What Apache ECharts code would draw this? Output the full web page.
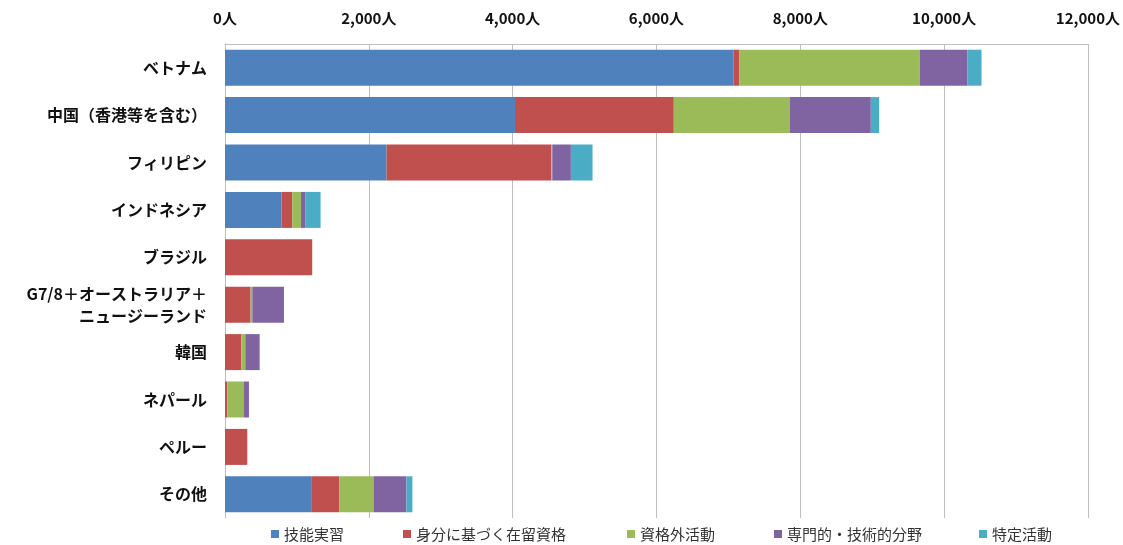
<!DOCTYPE html>
<html><head><meta charset="utf-8">
<script src="https://cdn.jsdelivr.net/npm/echarts@6/dist/echarts.min.js"></script>
<style>html,body{margin:0;padding:0;background:#fff}#c{width:1123px;height:545px}</style>
</head><body><div id="c"></div>
<script>
const categories = ['ベトナム','中国（香港等を含む）','フィリピン','インドネシア','ブラジル','G7/8＋オーストラリア＋\nニュージーランド','韓国','ネパール','ペルー','その他'];
const seriesNames = ['技能実習','身分に基づく在留資格','資格外活動','専門的・技術的分野','特定活動'];
const ginouJisshu   = [7069, 4033, 2247, 787, 0,    0,   0,   0,   0,   1208];
const mibun         = [85,   2208, 2290, 148, 1213, 356, 227, 32,  310, 380];
const shikakugai    = [2510, 1616, 14,   121, 0,    24,  55,  232, 0,   477];
const senmon        = [662,  1124, 259,  65,  0,    440, 200, 69,  0,   458];
const tokutei       = [194,  116,  301,  208, 0,    0,   0,   0,   0,   83];
const tickValues = [0,2000,4000,6000,8000,10000,12000];
const colors = ['#4F81BD','#C0504D','#9BBB59','#8064A2','#4BACC6'];
const dataSets = [ginouJisshu, mibun, shikakugai, senmon, tokutei];
const legendLeft = [266, 398, 622, 769, 974];

const chart = echarts.init(document.getElementById('c'));
const FONT = '"Noto Sans CJK JP", "Noto Sans", sans-serif';
chart.setOption({
  animation:false,
  textStyle:{fontFamily:FONT},
  color: colors,
  grid:{left:225, right:34, top:44, bottom:27, containLabel:false},
  legend: seriesNames.map((n,i)=>({
    top:523, left:legendLeft[i], itemWidth:8, itemHeight:8, itemGap:0, icon:'rect', padding:[2,5,2,5],
    textStyle:{fontFamily:FONT, fontSize:15, color:'#333', lineHeight:18},
    data:[n]
  })),
  xAxis:{
    type:'value', position:'top', min:0, max:12000, interval:2000,
    axisLine:{show:true, lineStyle:{color:'#bfbfbf'}},
    axisTick:{show:false},
    splitLine:{show:true, lineStyle:{color:'#bfbfbf', width:1}},
    axisLabel:{fontFamily:FONT, fontSize:15, fontWeight:'bold', color:'#111', margin:18,
      formatter:v=>v.toLocaleString('en-US')+'人'}
  },
  yAxis:{
    type:'category', inverse:true, data:categories,
    axisLine:{show:true, lineStyle:{color:'#bfbfbf'}},
    axisTick:{show:false},
    axisLabel:{fontFamily:FONT, fontSize:16, fontWeight:'bold', color:'#111', margin:18, lineHeight:22, align:'right'}
  },
  series: seriesNames.map((n,i)=>({
    name:n, type:'bar', stack:'total', data:dataSets[i], barWidth:36,
    itemStyle:{color:colors[i]}
  }))
});
</script></body></html>
